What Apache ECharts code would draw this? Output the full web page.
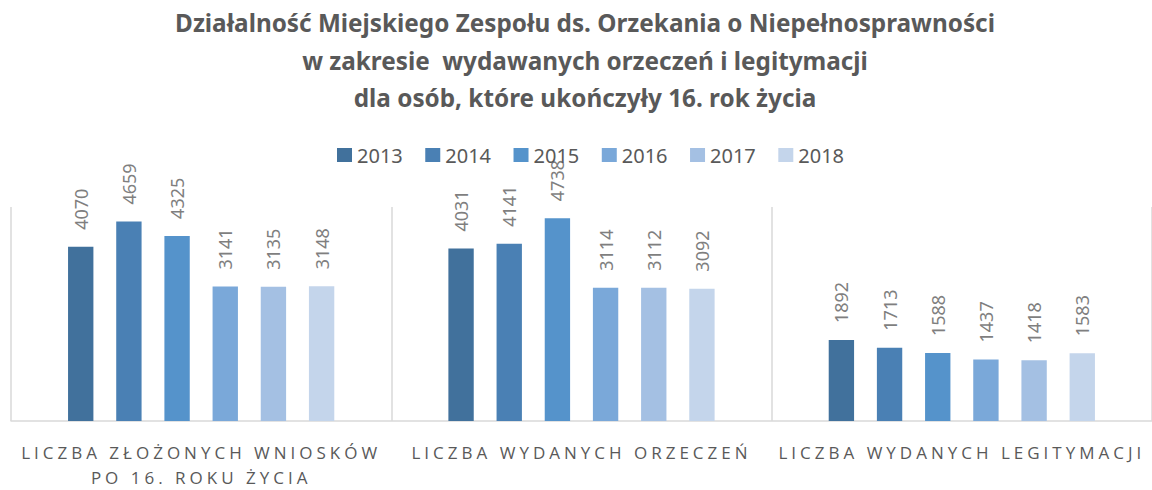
<!DOCTYPE html>
<html>
<head>
<meta charset="utf-8">
<script src="https://cdn.jsdelivr.net/npm/echarts@6/dist/echarts.min.js"></script>
<style>
  html, body { margin: 0; padding: 0; background: #ffffff; }
  #chart { width: 1152px; height: 490px; }
  /* spaced-out capitals for the category names */
  #chart text[style*="Open Sans"] { letter-spacing: 4px; }
</style>
</head>
<body>
<div id="chart"></div>
<script>
// Category names (x axis)
const categories = [
  'LICZBA ZŁOŻONYCH WNIOSKÓW\nPO 16. ROKU ŻYCIA',
  'LICZBA WYDANYCH ORZECZEŃ',
  'LICZBA WYDANYCH LEGITYMACJI'
];

// Years (one series per year)
const years = ['2013', '2014', '2015', '2016', '2017', '2018'];

// Values per year, in category order
const values2013 = [4070, 4031, 1892];
const values2014 = [4659, 4141, 1713];
const values2015 = [4325, 4738, 1588];
const values2016 = [3141, 3114, 1437];
const values2017 = [3135, 3112, 1418];
const values2018 = [3148, 3092, 1583];

const seriesValues = [values2013, values2014, values2015, values2016, values2017, values2018];
const yearColors = ['#41719c', '#4a80b4', '#5593cb', '#7aa8d9', '#a4c0e3', '#c4d5eb'];

const chart = echarts.init(document.getElementById('chart'), null, { renderer: 'svg' });

chart.setOption({
  animation: false,
  backgroundColor: '#ffffff',
  title: {
    text: 'Działalność Miejskiego Zespołu ds. Orzekania o Niepełnosprawności\nw zakresie  wydawanych orzeczeń i legitymacji\ndla osób, które ukończyły 16. rok życia',
    left: 585,
    textAlign: 'center',
    top: 4,
    padding: 0,
    textStyle: {
      fontFamily: 'Noto Sans',
      fontSize: 24.3,
      fontWeight: 'bold',
      color: '#595959',
      lineHeight: 37.5
    }
  },
  legend: {
    data: years,
    left: 337,
    top: 145,
    padding: 0,
    icon: 'rect',
    itemWidth: 15,
    itemHeight: 14,
    itemGap: 22.5,
    textStyle: {
      fontFamily: 'Noto Sans',
      fontSize: 20,
      color: '#595959'
    }
  },
  grid: {
    left: 11,
    right: -8,
    top: 207,
    bottom: 63,
    containLabel: false
  },
  xAxis: {
    type: 'category',
    data: categories,
    axisLine: { lineStyle: { color: '#d9d9d9', width: 1.5 } },
    axisTick: { show: false },
    splitLine: { show: true, lineStyle: { color: '#d9d9d9', width: 1.5 } },
    axisLabel: {
      fontFamily: 'Open Sans',
      fontSize: 17,
      color: '#595959',
      lineHeight: 25,
      margin: 19,
      interval: 0
    }
  },
  yAxis: {
    type: 'value',
    min: 0,
    max: 5000,
    show: false,
    splitLine: { show: false }
  },
  series: years.map((y, i) => ({
    name: y,
    type: 'bar',
    data: seriesValues[i],
    barCategoryGap: '30%',
    barGap: '90%',
    itemStyle: { color: yearColors[i] },
    label: {
      show: true,
      position: 'top',
      rotate: 90,
      align: 'left',
      verticalAlign: 'middle',
      distance: 17,
      fontFamily: 'Noto Sans',
      fontSize: 18,
      color: '#7f7f7f'
    }
  }))
});
</script>
</body>
</html>
